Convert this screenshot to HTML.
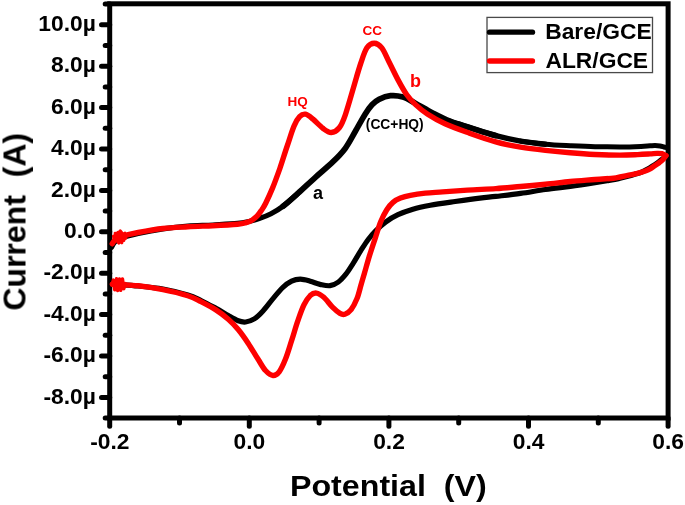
<!DOCTYPE html>
<html><head><meta charset="utf-8"><title>CV</title>
<style>html,body{margin:0;padding:0;background:#fff}body{width:685px;height:505px;position:relative;overflow:hidden;font-family:"Liberation Sans",sans-serif}</style>
</head><body>
<svg width="685" height="505" viewBox="0 0 685 505" style="position:absolute;left:0;top:0">
<defs><filter id="soft" x="-2%" y="-2%" width="104%" height="104%"><feGaussianBlur stdDeviation="0.45"/></filter></defs>
<rect x="0" y="0" width="685" height="505" fill="#fff"/>
<g filter="url(#soft)">
<g stroke="#000" stroke-width="5.0" fill="none" stroke-linecap="round">
<rect x="109.7" y="3.8" width="558.4" height="414.2" stroke-linejoin="miter"/>
<path d="M109.7 418.1H105.2"/>
<path d="M109.7 397.4H101.5"/>
<path d="M109.7 376.7H105.2"/>
<path d="M109.7 356.0H101.5"/>
<path d="M109.7 335.3H105.2"/>
<path d="M109.7 314.6H101.5"/>
<path d="M109.7 293.9H105.2"/>
<path d="M109.7 273.2H101.5"/>
<path d="M109.7 252.5H105.2"/>
<path d="M109.7 231.8H101.5"/>
<path d="M109.7 211.1H105.2"/>
<path d="M109.7 190.4H101.5"/>
<path d="M109.7 169.7H105.2"/>
<path d="M109.7 149.0H101.5"/>
<path d="M109.7 128.3H105.2"/>
<path d="M109.7 107.6H101.5"/>
<path d="M109.7 86.9H105.2"/>
<path d="M109.7 66.2H101.5"/>
<path d="M109.7 45.5H105.2"/>
<path d="M109.7 24.8H101.5"/>
<path d="M109.7 4.1H105.2"/>
<path d="M109.7 418.0V426.3"/>
<path d="M179.5 418.0V423.0"/>
<path d="M249.3 418.0V426.3"/>
<path d="M319.1 418.0V423.0"/>
<path d="M388.9 418.0V426.3"/>
<path d="M458.7 418.0V423.0"/>
<path d="M528.5 418.0V426.3"/>
<path d="M598.3 418.0V423.0"/>
<path d="M668.1 418.0V426.3"/>
</g>
<g fill="none" stroke-linecap="round" stroke-linejoin="round" stroke-width="5.4">
<path stroke="#000" stroke-width="5.8" d="M283.2 206.1C287.7 202.7 292.7 198.0 298.1 193.2C303.5 188.4 309.6 182.5 315.4 177.3C321.2 172.1 327.8 166.7 332.8 161.9C337.8 157.1 341.5 153.4 345.2 148.4C348.9 143.4 351.8 137.5 355.1 131.8C358.4 126.1 362.3 118.8 365.1 114.3C367.9 109.8 369.7 107.3 372.0 104.8C374.3 102.3 375.9 100.8 379.0 99.3C382.1 97.8 386.5 96.1 390.5 95.7C394.5 95.3 398.8 95.8 402.9 97.0C407.0 98.2 410.3 100.5 415.3 103.2C420.3 105.9 426.9 110.1 432.7 113.1C438.5 116.1 443.6 118.8 450.0 121.3C456.4 123.8 463.4 125.6 471.0 128.0C478.6 130.4 487.5 133.4 495.8 135.6"/>
<path stroke="#000" stroke-width="5.4" d="M450.0 121.3C456.4 123.8 463.4 125.6 471.0 128.0C478.6 130.4 487.5 133.4 495.8 135.6C504.1 137.8 512.3 139.7 520.6 141.1C528.9 142.5 537.1 143.4 545.4 144.2"/>
<path stroke="#000" stroke-width="5.0" d="M520.6 141.1C528.9 142.5 537.1 143.4 545.4 144.2C553.7 145.0 562.0 145.3 570.3 145.7C578.6 146.1 586.7 146.5 595.0 146.7C603.3 146.9 612.2 146.9 619.9 146.9C627.6 146.9 636.0 146.6 641.0 146.4C646.0 146.2 647.7 145.9 650.0 145.8C652.3 145.7 653.3 145.6 655.0 145.6C656.7 145.6 658.5 145.8 660.0 146.0C661.5 146.2 662.8 146.7 664.0 147.0C665.2 147.3 666.5 147.7 667.0 147.8"/>
<path stroke="#000" stroke-width="5.2" d="M111.5 247.3C112.1 246.4 113.2 243.4 115.0 241.8C116.8 240.2 118.1 239.2 122.0 237.8C125.9 236.4 131.4 235.0 138.2 233.5C145.0 232.0 154.7 230.1 163.0 228.9C171.3 227.7 179.5 226.8 187.8 226.2C196.1 225.5 204.4 225.5 212.7 225.0C221.0 224.5 231.3 224.0 237.5 223.4C243.7 222.8 246.2 222.0 249.9 221.2C253.6 220.3 256.3 219.6 259.8 218.3C263.3 217.1 267.1 215.7 271.0 213.7C274.9 211.7 278.7 209.5 283.2 206.1C287.7 202.7 292.7 198.0 298.1 193.2"/>
<path stroke="#000" stroke-width="5.2" d="M665.5 156.5C665.0 156.9 663.5 158.1 662.4 159.0C661.3 159.9 660.1 160.8 658.8 161.8C657.5 162.8 655.9 163.8 654.4 164.8C652.9 165.8 651.5 166.9 650.0 167.8C648.5 168.7 647.1 169.4 645.6 170.2C644.1 170.9 642.4 171.7 641.0 172.3C639.6 172.9 639.5 173.0 637.5 173.6C635.5 174.2 631.7 175.2 628.8 176.0C625.9 176.8 622.5 177.7 620.0 178.3C617.5 178.9 617.7 179.0 613.5 179.7C609.3 180.4 602.2 181.6 595.0 182.7C587.8 183.8 578.6 185.2 570.3 186.3C562.0 187.4 553.7 188.3 545.4 189.5C537.1 190.7 528.9 192.2 520.6 193.4C512.3 194.6 502.6 195.6 495.8 196.4C489.0 197.2 486.7 197.2 479.9 198.1C473.1 198.9 463.4 200.3 455.1 201.5C446.8 202.7 437.3 204.0 430.3 205.3C423.3 206.6 418.3 207.6 412.9 209.2C407.5 210.8 402.6 212.5 398.0 214.7C393.4 216.8 389.3 219.4 385.6 222.1C381.9 224.8 378.6 227.9 375.7 230.8C372.8 233.7 370.7 236.2 368.2 239.5C365.7 242.8 363.3 246.8 360.8 250.7C358.3 254.6 355.8 259.2 353.3 263.1C350.8 267.0 348.4 271.1 345.9 274.2C343.4 277.3 341.0 280.1 338.4 282.0C335.8 283.9 333.1 285.3 330.0 285.7C326.9 286.1 323.4 285.1 320.1 284.4C316.8 283.6 313.5 282.1 310.2 281.2C306.9 280.3 303.4 279.2 300.3 279.2C297.2 279.2 294.5 279.8 291.6 281.2C288.7 282.6 286.0 284.5 282.9 287.4C279.8 290.3 276.3 294.7 273.0 298.6C269.7 302.5 266.1 307.6 263.0 311.0C259.9 314.4 257.2 317.1 254.3 318.9C251.4 320.7 248.4 321.7 245.7 322.0C243.0 322.3 241.1 321.9 238.2 320.8C235.3 319.7 232.0 317.7 228.3 315.6C224.6 313.5 220.5 310.8 215.9 308.3C211.3 305.8 205.7 302.7 201.0 300.5C196.3 298.3 194.1 296.9 187.8 295.0C181.5 293.1 171.3 290.5 163.0 289.0C154.7 287.5 145.4 286.7 138.2 286.0C131.0 285.3 123.9 284.9 119.6 284.6C115.3 284.3 113.4 284.2 112.2 284.1"/>
<path stroke="#fe0000" d="M112.2 243.8C112.8 243.1 113.8 240.6 115.5 239.3C117.2 238.0 118.3 237.3 122.1 236.2C125.9 235.1 131.4 233.8 138.2 232.5C145.0 231.2 154.7 229.4 163.0 228.5C171.3 227.6 179.5 227.3 187.8 226.8C196.1 226.3 204.4 226.1 212.7 225.7C221.0 225.3 231.9 224.7 237.5 224.2C243.1 223.7 243.6 223.3 246.0 222.6C248.4 221.9 250.2 221.3 252.0 220.2C253.8 219.1 255.4 217.9 257.0 216.2C258.6 214.5 260.0 212.4 261.5 210.2C263.0 208.0 264.0 206.7 265.8 203.0C267.6 199.3 270.1 193.9 272.5 188.1C274.9 182.3 277.4 175.3 279.9 168.3C282.3 161.3 284.8 153.0 287.2 146.0C289.6 139.0 291.9 131.0 294.0 126.1C296.1 121.2 297.7 118.7 299.6 116.7C301.5 114.7 303.3 113.8 305.5 114.2C307.7 114.6 310.1 116.8 313.0 119.2C315.9 121.6 319.9 126.1 322.9 128.3C325.9 130.5 328.5 132.6 331.2 132.5C333.9 132.4 336.9 130.8 339.3 127.8C341.7 124.8 343.2 120.9 345.5 114.3C347.8 107.7 350.8 96.8 353.3 88.3C355.8 79.8 358.4 70.2 360.7 63.5C363.0 56.8 364.6 51.2 366.9 47.8C369.2 44.4 371.8 43.2 374.3 43.2C376.8 43.2 379.3 44.6 381.8 47.8C384.3 51.0 386.5 56.9 389.2 62.2C391.9 67.5 395.0 74.2 397.9 79.6C400.8 85.0 403.7 90.4 406.6 94.5C409.5 98.6 411.8 101.1 415.3 104.4C418.8 107.7 422.8 111.1 427.7 114.3C432.6 117.5 438.4 120.8 445.0 123.8C451.6 126.8 458.5 129.3 467.0 132.3C475.5 135.3 486.9 139.4 495.8 141.9C504.7 144.4 512.3 145.8 520.6 147.2C528.9 148.6 537.1 149.5 545.4 150.4C553.7 151.3 562.0 152.1 570.3 152.8C578.6 153.5 586.7 154.1 595.0 154.5C603.3 154.9 612.8 155.1 619.9 155.1C627.0 155.1 632.5 154.8 637.5 154.6C642.5 154.4 646.8 154.1 650.0 153.9C653.2 153.7 655.0 153.4 657.0 153.4C659.0 153.4 660.5 153.3 662.0 153.7C663.5 154.1 665.2 155.3 665.8 155.6"/>
<path stroke="#fe0000" d="M666.0 155.6C665.5 156.2 664.1 158.3 663.0 159.5C661.9 160.7 660.7 161.5 659.4 162.5C658.1 163.5 656.5 164.5 655.0 165.5C653.5 166.5 652.0 167.7 650.5 168.6C649.0 169.5 647.6 170.2 646.0 170.8C644.4 171.4 642.4 172.0 641.0 172.4C639.6 172.8 639.5 172.8 637.5 173.3C635.5 173.8 631.7 174.6 628.8 175.2C625.9 175.8 622.5 176.5 620.0 177.0C617.5 177.5 617.7 177.8 613.5 178.2C609.3 178.6 602.2 178.9 595.0 179.5C587.8 180.1 578.6 180.7 570.3 181.5C562.0 182.3 553.7 183.4 545.4 184.2C537.1 185.0 528.9 185.8 520.6 186.5C512.3 187.2 504.7 188.0 495.8 188.6C486.9 189.2 476.4 189.5 467.5 190.1C458.6 190.7 449.7 191.4 442.7 191.9C435.7 192.4 430.7 192.5 425.3 193.1C419.9 193.7 414.5 194.5 410.4 195.3C406.3 196.1 403.4 196.9 400.5 198.1C397.6 199.3 395.3 200.4 393.0 202.3C390.7 204.2 388.9 206.4 386.8 209.7C384.7 213.0 382.5 217.3 380.6 222.1C378.7 226.9 377.1 232.7 375.2 238.3C373.3 243.9 371.3 249.8 369.5 255.6C367.7 261.4 365.9 268.2 364.5 273.0C363.1 277.8 362.4 280.0 361.2 284.3C359.9 288.6 358.7 294.4 357.0 298.6C355.3 302.8 353.1 307.1 351.1 309.7C349.1 312.3 346.8 313.6 344.9 314.2C343.0 314.8 342.1 314.6 340.0 313.4C337.9 312.2 335.2 309.9 332.5 307.2C329.8 304.5 326.5 299.6 323.8 297.3C321.1 295.0 318.7 293.4 316.4 293.1C314.1 292.8 312.3 293.7 310.2 295.6C308.1 297.6 306.1 300.6 304.0 304.8C301.9 309.0 299.9 314.9 297.8 320.9C295.7 326.9 293.7 334.3 291.6 340.7C289.5 347.1 287.5 354.1 285.4 359.3C283.3 364.5 281.3 369.1 279.2 371.8C277.1 374.5 275.3 375.7 273.0 375.5C270.7 375.3 268.0 373.2 265.5 370.5C263.0 367.8 261.0 363.9 258.1 359.3C255.2 354.8 251.4 348.2 248.1 343.2C244.8 338.2 241.5 333.5 238.2 329.5C234.9 325.5 232.0 322.6 228.3 319.3C224.6 316.0 220.5 312.8 215.9 309.9C211.3 307.0 205.7 304.1 201.0 301.7C196.3 299.3 194.1 297.7 187.8 295.7C181.5 293.7 171.3 291.2 163.0 289.6C154.7 288.0 145.4 286.6 138.2 285.8C131.0 285.0 123.9 284.9 119.6 284.6C115.3 284.3 113.4 284.2 112.2 284.1"/>
<path stroke="#fe0000" stroke-width="3.4" d="M114.7 241.1L113.6 236.1L118.9 243.0L115.3 233.4L121.8 242.6L117.9 232.5L123.8 240.3L120.2 231.0L125.7 238.1L124.7 233.3"/>
<path stroke="#fe0000" stroke-width="3.4" d="M111.8 285.2L113.4 280.1L114.7 289.9L116.5 278.7L117.7 290.6L119.5 279.0L120.7 290.4L122.5 278.9L123.8 288.7L125.4 283.6"/>
</g>
<rect x="487" y="17.4" width="165.5" height="55.2" fill="#fff" stroke="#484848" stroke-width="1.3"/>
<path d="M489.5 32.2H532.5" stroke="#000" stroke-width="5.3" stroke-linecap="round"/>
<path d="M489.5 61.0H532.5" stroke="#fe0000" stroke-width="5.3" stroke-linecap="round"/>
<g font-family="'Liberation Sans', sans-serif" font-weight="bold" fill="#000">
<text transform="translate(95.80 403.50) scale(1.000 1)" font-size="22.8" text-anchor="end" xml:space="preserve">-8.0µ</text>
<text transform="translate(95.80 362.10) scale(1.000 1)" font-size="22.8" text-anchor="end" xml:space="preserve">-6.0µ</text>
<text transform="translate(95.80 320.70) scale(1.000 1)" font-size="22.8" text-anchor="end" xml:space="preserve">-4.0µ</text>
<text transform="translate(95.80 279.30) scale(1.000 1)" font-size="22.8" text-anchor="end" xml:space="preserve">-2.0µ</text>
<text transform="translate(95.80 237.90) scale(1.000 1)" font-size="22.8" text-anchor="end" xml:space="preserve">0.0</text>
<text transform="translate(95.80 196.50) scale(1.000 1)" font-size="22.8" text-anchor="end" xml:space="preserve">2.0µ</text>
<text transform="translate(95.80 155.10) scale(1.000 1)" font-size="22.8" text-anchor="end" xml:space="preserve">4.0µ</text>
<text transform="translate(95.80 113.70) scale(1.000 1)" font-size="22.8" text-anchor="end" xml:space="preserve">6.0µ</text>
<text transform="translate(95.80 72.30) scale(1.000 1)" font-size="22.8" text-anchor="end" xml:space="preserve">8.0µ</text>
<text transform="translate(95.80 30.90) scale(1.000 1)" font-size="22.8" text-anchor="end" xml:space="preserve">10.0µ</text>
<text transform="translate(109.80 449.20) scale(1.000 1)" font-size="22.8" text-anchor="middle" xml:space="preserve">-0.2</text>
<text transform="translate(249.40 449.20) scale(1.000 1)" font-size="22.8" text-anchor="middle" xml:space="preserve">0.0</text>
<text transform="translate(389.00 449.20) scale(1.000 1)" font-size="22.8" text-anchor="middle" xml:space="preserve">0.2</text>
<text transform="translate(528.60 449.20) scale(1.000 1)" font-size="22.8" text-anchor="middle" xml:space="preserve">0.4</text>
<text transform="translate(668.20 449.20) scale(1.000 1)" font-size="22.8" text-anchor="middle" xml:space="preserve">0.6</text>
<text transform="translate(289.90 496.30) scale(1.060 1)" font-size="30.4" text-anchor="start" xml:space="preserve">Potential  (V)</text>
<text transform="translate(25.5 310.6) rotate(-90)" font-size="32" xml:space="preserve">Current  (A)</text>
<text transform="translate(545.20 38.90) scale(1.010 1)" font-size="22.6" text-anchor="start" xml:space="preserve">Bare/GCE</text>
<text transform="translate(545.40 67.70) scale(1.010 1)" font-size="22.6" text-anchor="start" xml:space="preserve">ALR/GCE</text>
<text transform="translate(362.50 35.00) scale(1.000 1)" font-size="13.5" text-anchor="start" xml:space="preserve" fill="#fe0000">CC</text>
<text transform="translate(287.60 105.80) scale(1.000 1)" font-size="13.5" text-anchor="start" xml:space="preserve" fill="#fe0000">HQ</text>
<text transform="translate(410.00 87.00) scale(1.000 1)" font-size="18" text-anchor="start" xml:space="preserve" fill="#fe0000">b</text>
<text transform="translate(365.80 128.50) scale(1.000 1)" font-size="13.8" text-anchor="start" xml:space="preserve">(CC+HQ)</text>
<text transform="translate(313.00 199.00) scale(1.000 1)" font-size="18" text-anchor="start" xml:space="preserve">a</text>
</g>
</g>
</svg>
</body></html>
